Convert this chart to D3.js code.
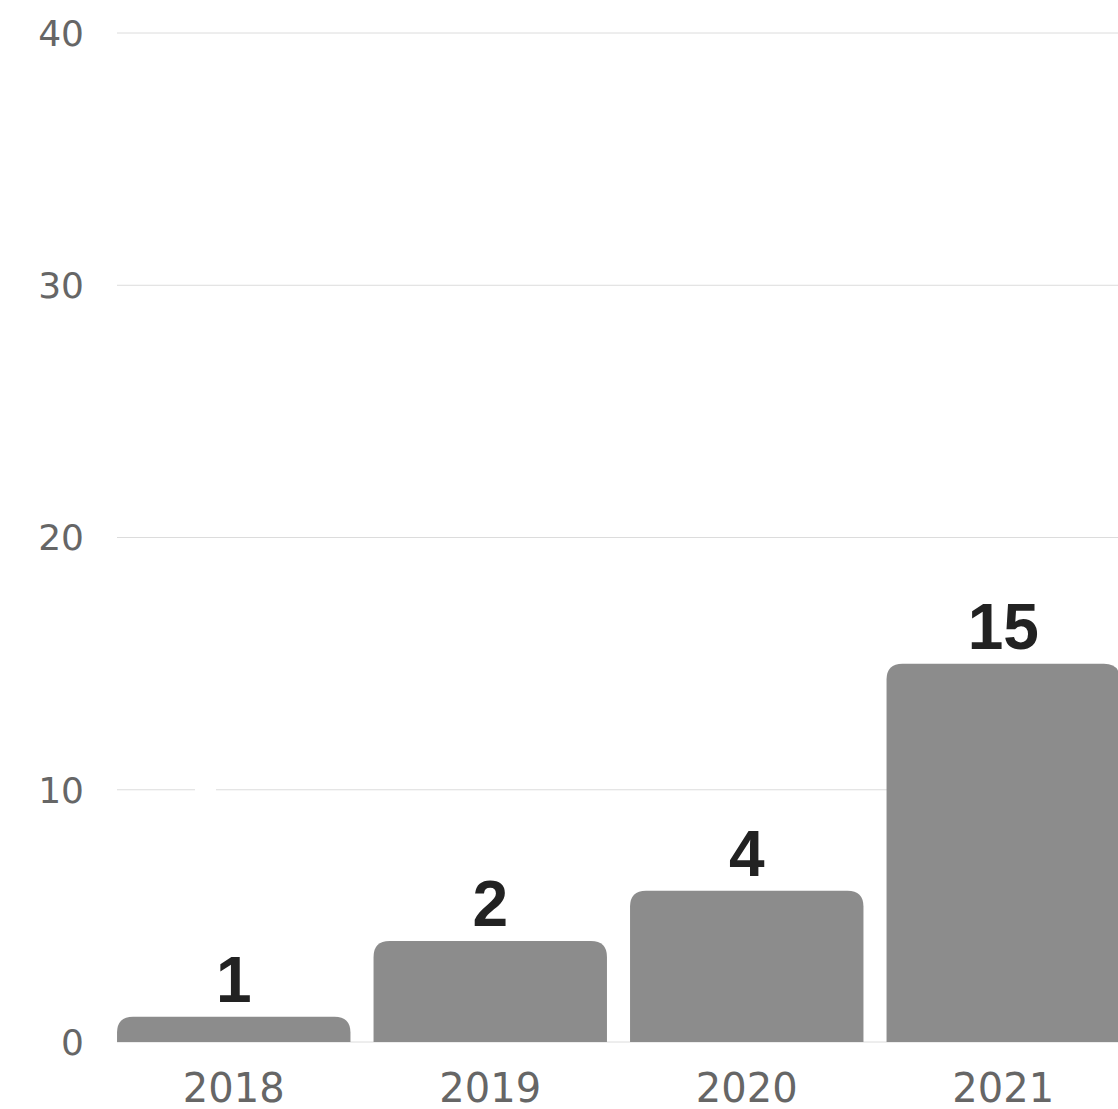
<!DOCTYPE html>
<html>
<head>
<meta charset="utf-8">
<script src="https://d3js.org/d3.v7.min.js"></script>
<style>
  body { margin: 0; background: #fff; }
</style>
</head>
<body>
<div id="chart"></div>
<script>
const years = ["2018", "2019", "2020", "2021"];
const values = [1, 4, 6, 15];
const labels = ["1", "2", "4", "15"];
const yTicks = [0, 10, 20, 30, 40];

const width = 1118;
const height = 1109;

const svg = d3.select('#chart')
  .append('svg')
  .attr('width', width)
  .attr('height', height)
  .style('display', 'block');

const xScale = d3.scaleBand()
  .domain(years)
  .range([105.5, 1131.5])
  .paddingInner(0.09)
  .paddingOuter(0.045);

const yScale = d3.scaleLinear()
  .domain([0, 40])
  .range([1042, 33]);

// grid lines
svg.append('g')
  .selectAll('line')
  .data(yTicks)
  .join('line')
  .attr('x1', 117)
  .attr('x2', width)
  .attr('y1', d => yScale(d))
  .attr('y2', d => yScale(d))
  .attr('stroke', '#dcdcdc')
  .attr('stroke-width', 1);

// small gap in the 10 line
svg.append('rect')
  .attr('x', 195)
  .attr('y', yScale(10) - 2)
  .attr('width', 21)
  .attr('height', 4)
  .attr('fill', '#fff');

// y tick labels
svg.append('g')
  .selectAll('text')
  .data(yTicks)
  .join('text')
  .attr('x', 84)
  .attr('y', d => yScale(d))
  .attr('dy', '0.36em')
  .attr('text-anchor', 'end')
  .style('font-family', '"DejaVu Sans", sans-serif')
  .style('font-size', '36px')
  .attr('fill', '#666')
  .text(d => d);

// bars with rounded tops
const r = 16;
svg.append('g')
  .selectAll('path')
  .data(values)
  .join('path')
  .attr('fill', '#8c8c8c')
  .attr('d', (d, i) => {
    const x0 = xScale(years[i]);
    const x1 = x0 + xScale.bandwidth();
    const y0 = yScale(0);
    const y1 = yScale(d);
    const rr = Math.min(r, (y0 - y1));
    return `M${x0},${y0}V${y1 + rr}Q${x0},${y1} ${x0 + rr},${y1}H${x1 - rr}Q${x1},${y1} ${x1},${y1 + rr}V${y0}Z`;
  });

// value labels
svg.append('g')
  .selectAll('text')
  .data(values)
  .join('text')
  .attr('x', (d, i) => xScale(years[i]) + xScale.bandwidth() / 2)
  .attr('y', d => yScale(d) - 15)
  .attr('text-anchor', 'middle')
  .style('font-family', '"Liberation Sans", Arial, sans-serif')
  .style('font-weight', 'bold')
  .style('font-size', '64px')
  .attr('fill', '#222')
  .text((d, i) => labels[i]);

// x tick labels
svg.append('g')
  .selectAll('text')
  .data(years)
  .join('text')
  .attr('x', d => xScale(d) + xScale.bandwidth() / 2)
  .attr('y', 1102)
  .attr('text-anchor', 'middle')
  .style('font-family', '"DejaVu Sans", sans-serif')
  .style('font-size', '40px')
  .attr('fill', '#666')
  .text(d => d);
</script>
</body>
</html>
